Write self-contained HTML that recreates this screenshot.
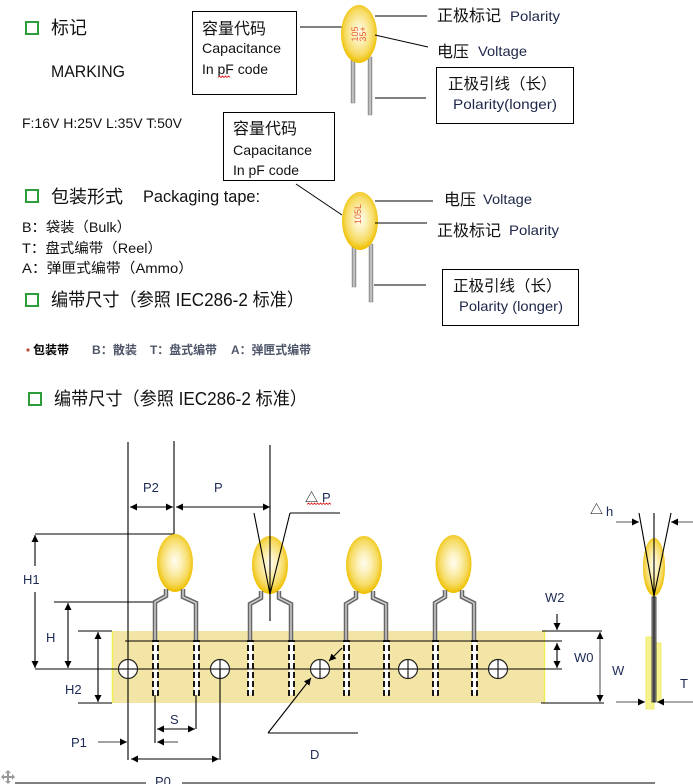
<!DOCTYPE html>
<html><head><meta charset="utf-8">
<style>
html,body{margin:0;padding:0;background:#fff;}
svg{display:block;}
text{font-family:"Liberation Sans","Noto Sans CJK SC",sans-serif;fill:#111;}
.n{fill:#1c2a55;}
.bl{fill:#1c2648;}
</style></head>
<body>
<svg width="693" height="784" viewBox="0 0 693 784" xmlns="http://www.w3.org/2000/svg">
<defs>
<radialGradient id="cap" cx="50%" cy="47%" r="52%">
<stop offset="0" stop-color="#fffcf0"/>
<stop offset="0.35" stop-color="#fcf0b8"/>
<stop offset="0.75" stop-color="#f6da60"/>
<stop offset="1" stop-color="#efc000"/>
</radialGradient>
<linearGradient id="ld" x1="0" x2="1" y1="0" y2="0">
<stop offset="0" stop-color="#808080"/>
<stop offset="0.5" stop-color="#d6d6d6"/>
<stop offset="1" stop-color="#7a7a7a"/>
</linearGradient>
<marker id="ah" viewBox="0 0 10 10" refX="10" refY="5" markerWidth="8" markerHeight="7" markerUnits="userSpaceOnUse" orient="auto-start-reverse"><path d="M0,0 L10,5 L0,10 z" fill="#000"/></marker>
</defs>

<!-- ===== Section 1: marking ===== -->
<rect x="26" y="22" width="12" height="12" fill="none" stroke="#2e9e3a" stroke-width="2"/>
<text x="51" y="34" font-size="18">标记</text>
<text x="51" y="77" font-size="17" textLength="74" lengthAdjust="spacingAndGlyphs">MARKING</text>
<text x="22" y="128" font-size="13.5" textLength="160" lengthAdjust="spacingAndGlyphs">F:16V H:25V L:35V T:50V</text>

<!-- box 1 -->
<rect x="192.5" y="11.5" width="104" height="83" fill="#fff" stroke="#000" stroke-width="1"/>
<text x="202" y="34" font-size="16">容量代码</text>
<text x="202" y="53" font-size="14" textLength="79" lengthAdjust="spacingAndGlyphs">Capacitance</text>
<text x="202" y="74" font-size="14" textLength="66" lengthAdjust="spacingAndGlyphs">In pF code</text>
<path d="M218,77.5 l1.5,-1.5 l1.5,1.5 l1.5,-1.5 l1.5,1.5 l1.5,-1.5 l1.5,1.5 l1.5,-1.5 l1.5,1.5" fill="none" stroke="#e02020" stroke-width="0.8"/>
<line x1="300" y1="27" x2="342" y2="27" stroke="#000" stroke-width="1"/>

<!-- capacitor 1 -->
<rect x="351" y="60" width="4" height="43" fill="url(#ld)" stroke="#8a8a8a" stroke-width="0.5"/>
<rect x="368" y="57" width="4" height="58" fill="url(#ld)" stroke="#8a8a8a" stroke-width="0.5"/>
<ellipse cx="359" cy="34" rx="18" ry="29" fill="url(#cap)"/>
<text x="0" y="0" font-size="9" style="fill:#e8602c" transform="translate(358,34) rotate(-90)" text-anchor="middle">105</text>
<text x="0" y="0" font-size="9" style="fill:#e8602c" transform="translate(366,34) rotate(-90)" text-anchor="middle">35+</text>

<line x1="375" y1="16" x2="427" y2="16" stroke="#000" stroke-width="1"/>
<line x1="375" y1="35" x2="428" y2="47" stroke="#000" stroke-width="1"/>
<line x1="375" y1="98" x2="426" y2="98" stroke="#000" stroke-width="1"/>
<text x="437" y="21" font-size="16">正极标记</text>
<text x="510" y="21" font-size="14" class="bl" textLength="50" lengthAdjust="spacingAndGlyphs">Polarity</text>
<text x="437" y="57" font-size="16">电压</text>
<text x="478" y="56" font-size="14" class="bl" textLength="49" lengthAdjust="spacingAndGlyphs">Voltage</text>
<rect x="436.5" y="67.5" width="137" height="56" fill="#fff" stroke="#000" stroke-width="1"/>
<text x="448" y="89" font-size="15.5">正极引线（长）</text>
<text x="453" y="109" font-size="14" class="bl" textLength="104" lengthAdjust="spacingAndGlyphs">Polarity(longer)</text>

<!-- box 3 -->
<rect x="223.5" y="112.5" width="111" height="68" fill="#fff" stroke="#000" stroke-width="1"/>
<text x="233" y="134" font-size="16">容量代码</text>
<text x="233" y="155" font-size="14" textLength="79" lengthAdjust="spacingAndGlyphs">Capacitance</text>
<text x="233" y="175" font-size="14" textLength="66" lengthAdjust="spacingAndGlyphs">In pF code</text>
<line x1="296" y1="184" x2="342" y2="215" stroke="#000" stroke-width="1"/>

<!-- capacitor 2 -->
<rect x="352" y="245" width="4" height="42" fill="url(#ld)" stroke="#8a8a8a" stroke-width="0.5"/>
<rect x="369" y="244" width="4" height="58" fill="url(#ld)" stroke="#8a8a8a" stroke-width="0.5"/>
<ellipse cx="360" cy="221" rx="18" ry="29" fill="url(#cap)"/>
<text x="0" y="0" font-size="9" style="fill:#e8602c" transform="translate(361,214) rotate(-90)" text-anchor="middle">105L</text>
<line x1="375" y1="201" x2="433" y2="201" stroke="#000" stroke-width="1"/>
<line x1="375" y1="223" x2="427" y2="223" stroke="#000" stroke-width="1"/>
<line x1="374" y1="285" x2="426" y2="285" stroke="#000" stroke-width="1"/>
<text x="444" y="205" font-size="16">电压</text>
<text x="483" y="204" font-size="14" class="bl" textLength="49" lengthAdjust="spacingAndGlyphs">Voltage</text>
<text x="437" y="236" font-size="16">正极标记</text>
<text x="509" y="235" font-size="14" class="bl" textLength="50" lengthAdjust="spacingAndGlyphs">Polarity</text>
<rect x="442.5" y="269.5" width="136" height="56" fill="#fff" stroke="#000" stroke-width="1"/>
<text x="453" y="291" font-size="15.5">正极引线（长）</text>
<text x="459" y="311" font-size="14" class="bl" textLength="104" lengthAdjust="spacingAndGlyphs">Polarity (longer)</text>

<!-- ===== Section 2: packaging ===== -->
<rect x="26" y="190" width="12" height="12" fill="none" stroke="#2e9e3a" stroke-width="2"/>
<text x="51" y="203" font-size="18">包装形式</text>
<text x="143" y="202" font-size="17" textLength="117" lengthAdjust="spacingAndGlyphs">Packaging tape:</text>
<text x="22" y="232" font-size="14" textLength="109" lengthAdjust="spacingAndGlyphs">B：袋装（Bulk）</text>
<text x="22" y="253" font-size="14" textLength="140" lengthAdjust="spacingAndGlyphs">T：盘式编带（Reel）</text>
<text x="22" y="273" font-size="14" textLength="171" lengthAdjust="spacingAndGlyphs">A：弹匣式编带（Ammo）</text>

<rect x="26" y="294" width="12" height="12" fill="none" stroke="#2e9e3a" stroke-width="2"/>
<text x="51" y="306" font-size="18" textLength="253" lengthAdjust="spacingAndGlyphs">编带尺寸（参照 IEC286-2 标准）</text>

<circle cx="28" cy="350" r="1.6" fill="#b5503a"/>
<text x="33" y="354" font-size="12" font-weight="bold" style="fill:#000">包装带</text>
<text x="92" y="354" font-size="12" font-weight="bold" style="fill:#4f566a" textLength="45" lengthAdjust="spacingAndGlyphs">B：散装</text>
<text x="150" y="354" font-size="12" font-weight="bold" style="fill:#4f566a" textLength="67" lengthAdjust="spacingAndGlyphs">T：盘式编带</text>
<text x="231" y="354" font-size="12" font-weight="bold" style="fill:#4f566a" textLength="80" lengthAdjust="spacingAndGlyphs">A：弹匣式编带</text>

<rect x="29" y="393" width="12" height="12" fill="none" stroke="#2e9e3a" stroke-width="2"/>
<text x="54" y="405" font-size="18" textLength="253" lengthAdjust="spacingAndGlyphs">编带尺寸（参照 IEC286-2 标准）</text>

<!-- ===== Tape diagram ===== -->
<rect x="112" y="631" width="433" height="72" fill="#f3e5a5"/>
<line x1="112.5" y1="631" x2="112.5" y2="703" stroke="#eeee55" stroke-width="1.5"/>
<line x1="544.5" y1="631" x2="544.5" y2="703" stroke="#eeee55" stroke-width="1.5"/>

<g stroke="#000" stroke-width="1.1" fill="none">
<line x1="128" y1="442" x2="128" y2="760"/>
<line x1="174" y1="441" x2="174" y2="534"/>
<line x1="35" y1="534" x2="174" y2="534"/>
<line x1="54" y1="602" x2="155" y2="602"/>
<line x1="290" y1="513" x2="340" y2="513"/>
<line x1="130" y1="507" x2="173" y2="507" marker-start="url(#ah)" marker-end="url(#ah)"/>
<line x1="176" y1="507" x2="270" y2="507" marker-start="url(#ah)" marker-end="url(#ah)"/>
<line x1="35" y1="535" x2="35" y2="566" marker-start="url(#ah)"/>
<line x1="35" y1="592" x2="35" y2="668" marker-end="url(#ah)"/>
<line x1="68" y1="603" x2="68" y2="668" marker-start="url(#ah)" marker-end="url(#ah)"/>
<line x1="78" y1="631" x2="112" y2="631"/>
<line x1="78" y1="703" x2="112" y2="703"/>
<line x1="98" y1="632" x2="98" y2="702" marker-start="url(#ah)" marker-end="url(#ah)"/>
<line x1="125" y1="641" x2="562" y2="641"/>
<line x1="35" y1="669" x2="562" y2="669"/>
</g>

<!-- capacitors on tape -->
<g>
<ellipse cx="175" cy="563" rx="18" ry="29" fill="url(#cap)"/>
<ellipse cx="270" cy="565" rx="18" ry="29" fill="url(#cap)"/>
<ellipse cx="364" cy="565" rx="18" ry="29" fill="url(#cap)"/>
<ellipse cx="453.5" cy="564" rx="18" ry="29" fill="url(#cap)"/>
</g>
<g fill="none" stroke-linejoin="miter">
<g stroke="#666" stroke-width="4.5">
<polyline points="166,589 166,596 155,602 155,641"/>
<polyline points="183,589 183,597 196,603 196,641"/>
<polyline points="261,591 261,598 250,604 250,641"/>
<polyline points="279,591 279,598 291,604 291,641"/>
<polyline points="356,591 356,598 346,604 346,641"/>
<polyline points="373,591 373,598 386,604 386,641"/>
<polyline points="445,590 445,597 435,603 435,641"/>
<polyline points="462,590 462,597 474,603 474,641"/>
</g>
<g stroke="#d4d4d4" stroke-width="1.4">
<polyline points="166,589 166,596 155,602 155,641"/>
<polyline points="183,589 183,597 196,603 196,641"/>
<polyline points="261,591 261,598 250,604 250,641"/>
<polyline points="279,591 279,598 291,604 291,641"/>
<polyline points="356,591 356,598 346,604 346,641"/>
<polyline points="373,591 373,598 386,604 386,641"/>
<polyline points="445,590 445,597 435,603 435,641"/>
<polyline points="462,590 462,597 474,603 474,641"/>
</g>
</g>

<g stroke="#000" stroke-width="1.1">
<line x1="270" y1="445" x2="270" y2="621"/>
<line x1="254" y1="513" x2="270" y2="594"/>
<line x1="290" y1="513" x2="270" y2="594"/>
</g>

<!-- dashed lead rects -->
<g fill="#fff" stroke="#000" stroke-width="1.8" stroke-dasharray="6,3">
<rect x="153" y="641" width="5" height="54"/>
<rect x="194" y="641" width="5" height="54"/>
<rect x="248" y="641" width="5" height="54"/>
<rect x="289" y="641" width="5" height="54"/>
<rect x="344" y="641" width="5" height="54"/>
<rect x="384" y="641" width="5" height="54"/>
<rect x="433" y="641" width="5" height="54"/>
<rect x="472" y="641" width="5" height="54"/>
</g>
<line x1="153" y1="669" x2="478" y2="669" stroke="#000" stroke-width="1.1"/>

<!-- holes -->
<g stroke="#222" stroke-width="1.2">
<circle cx="128" cy="669" r="9.5" fill="#fff"/>
<circle cx="220" cy="669" r="9.5" fill="#fff"/>
<circle cx="320" cy="669" r="9.5" fill="#fff"/>
<circle cx="408" cy="669" r="9.5" fill="#fff"/>
<circle cx="498" cy="669" r="9.5" fill="#fff"/>
<line x1="118" y1="669" x2="138" y2="669"/>
<line x1="210" y1="669" x2="230" y2="669"/>
<line x1="310" y1="669" x2="330" y2="669"/>
<line x1="398" y1="669" x2="418" y2="669"/>
<line x1="488" y1="669" x2="508" y2="669"/>
<line x1="128" y1="659" x2="128" y2="679"/>
<line x1="220" y1="659" x2="220" y2="679"/>
<line x1="320" y1="659" x2="320" y2="679"/>
<line x1="408" y1="659" x2="408" y2="679"/>
<line x1="498" y1="659" x2="498" y2="679"/>
</g>

<!-- lower dims -->
<g stroke="#000" stroke-width="1.1" fill="none">
<line x1="155" y1="695" x2="155" y2="743"/>
<line x1="196" y1="695" x2="196" y2="729"/>
<line x1="157" y1="729" x2="195" y2="729" marker-start="url(#ah)" marker-end="url(#ah)"/>
<line x1="178" y1="742" x2="157" y2="742" marker-end="url(#ah)" stroke="#444"/>
<line x1="98" y1="742" x2="127" y2="742" marker-end="url(#ah)" stroke="#444"/>
<line x1="220" y1="669" x2="220" y2="760"/>
<line x1="131" y1="759" x2="219" y2="759" marker-start="url(#ah)" marker-end="url(#ah)"/>
<line x1="342" y1="648" x2="329" y2="661" marker-end="url(#ah)"/>
<line x1="268" y1="733" x2="311" y2="678" marker-end="url(#ah)"/>
<line x1="268" y1="733" x2="358" y2="733"/>
<line x1="15" y1="783" x2="146" y2="783"/>
<line x1="182" y1="783" x2="655" y2="783"/>
<line x1="557" y1="614" x2="557" y2="630" marker-end="url(#ah)"/>
<line x1="557" y1="643" x2="557" y2="668" marker-start="url(#ah)" marker-end="url(#ah)"/>
<line x1="542" y1="631" x2="602" y2="631"/>
<line x1="541" y1="703" x2="604" y2="703"/>
<line x1="600" y1="632" x2="600" y2="702" stroke="#555" marker-start="url(#ah)" marker-end="url(#ah)"/>
</g>

<!-- side view -->
<rect x="646" y="637" width="8" height="72" fill="#f6f28e" stroke="#ece85a" stroke-width="0.8"/>
<rect x="654" y="643" width="7" height="59" fill="#f6f28e" stroke="#ece85a" stroke-width="0.8"/>
<rect x="652" y="597" width="4" height="105" fill="#9a9a9a" stroke="#222" stroke-width="0.8"/>
<ellipse cx="654" cy="567" rx="11" ry="29" fill="url(#cap)"/>
<g stroke="#000" stroke-width="1.1">
<line x1="654" y1="513" x2="654" y2="702"/>
<line x1="639" y1="513" x2="654" y2="596"/>
<line x1="671" y1="513" x2="654" y2="596"/>
<line x1="616" y1="522" x2="639" y2="522" stroke="#555" marker-end="url(#ah)"/>
<line x1="693" y1="522" x2="671" y2="522" stroke="#555" marker-end="url(#ah)"/>
<line x1="616" y1="702" x2="645" y2="702" stroke="#555" marker-end="url(#ah)"/>
<line x1="693" y1="702" x2="657" y2="702" stroke="#555" marker-end="url(#ah)"/>
</g>

<!-- diagram labels -->
<g font-size="13">
<text x="143" y="492" class="n">P2</text>
<text x="214" y="492" class="n">P</text>
<text x="305" y="502" style="fill:#000">△</text>
<text x="322" y="502" class="n">P</text>
<path d="M307,504.5 l1.5,-1.5 l1.5,1.5 l1.5,-1.5 l1.5,1.5 l1.5,-1.5 l1.5,1.5 l1.5,-1.5 l1.5,1.5 l1.5,-1.5 l1.5,1.5 l1.5,-1.5 l1.5,1.5 l1.5,-1.5 l1.5,1.5 l1.5,-1.5 l1.5,1.5" fill="none" stroke="#e02020" stroke-width="0.8"/>
<text x="23" y="584" class="n">H1</text>
<text x="46" y="642" class="n">H</text>
<text x="65" y="694" class="n">H2</text>
<text x="170" y="724" class="n">S</text>
<text x="71" y="747" class="n">P1</text>
<text x="310" y="759" class="n">D</text>
<text x="155" y="786" class="n">P0</text>
<text x="545" y="602" class="n">W2</text>
<text x="574" y="662" class="n">W0</text>
<text x="612" y="675" class="n">W</text>
<text x="680" y="688" class="n">T</text>
<text x="590" y="514" style="fill:#000">△</text>
<text x="606" y="516" class="n">h</text>
</g>

<!-- small move icon -->
<g fill="#9a9a9a">
<path d="M8,770 l3,3 h-6 z"/>
<path d="M8,784 l3,-3 h-6 z"/>
<path d="M1,777 l3,-3 v6 z"/>
<path d="M15,777 l-3,-3 v6 z"/>
<rect x="7" y="773" width="2" height="8"/>
<rect x="4" y="776" width="8" height="2"/>
</g>
</svg>
</body></html>
